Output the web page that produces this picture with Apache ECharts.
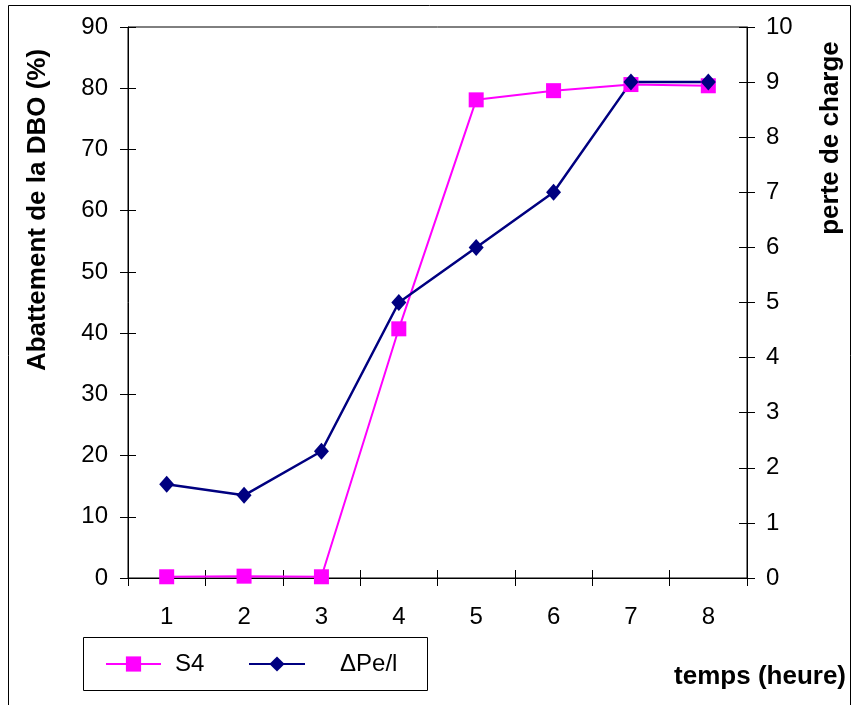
<!DOCTYPE html>
<html>
<head>
<meta charset="utf-8">
<script src="https://cdn.jsdelivr.net/npm/echarts@6/dist/echarts.min.js"></script>
<style>
  html, body { margin: 0; padding: 0; background: #fff; }
  #chart { width: 854px; height: 705px; }
</style>
</head>
<body>
<div id="chart"></div>
<script>
// Hours of operation (x axis)
const hours = ['1', '2', '3', '4', '5', '6', '7', '8'];
// BOD removal (%) for S4, left axis
const s4 = [0.2, 0.3, 0.2, 40.7, 78.1, 79.6, 80.6, 80.4];
// Head loss, right axis
const headLoss = [1.7, 1.5, 2.3, 5.0, 6.0, 7.0, 9.0, 9.0];
// Axis ranges
const leftMax = 90, leftStep = 10;
const rightMax = 10, rightStep = 1;

const FONT = "'Liberation Sans', Arial, sans-serif";
const chart = echarts.init(document.getElementById('chart'));

const tickLabel = { color: '#000', fontSize: 24, fontFamily: FONT };

chart.setOption({
  animation: false,
  backgroundColor: '#fff',
  grid: {
    left: 128, right: 107, top: 27, bottom: 127,
    show: true, borderColor: '#000', borderWidth: 1, backgroundColor: 'transparent'
  },
  xAxis: [
    {
      type: 'category', data: hours, boundaryGap: true, position: 'bottom',
      axisLine: { lineStyle: { color: '#000', width: 1 } },
      axisTick: { show: true, length: 8, inside: false, lineStyle: { color: '#000' } },
      axisLabel: Object.assign({ margin: 27 }, tickLabel),
      splitLine: { show: false }
    },
    {
      type: 'category', data: hours, boundaryGap: true, position: 'bottom',
      axisLine: { show: false },
      axisTick: { show: true, length: 8, inside: true, lineStyle: { color: '#000' } },
      axisLabel: { show: false },
      splitLine: { show: false }
    }
  ],
  yAxis: [
    {
      type: 'value', min: 0, max: leftMax, interval: leftStep, position: 'left',
      axisLine: { show: true, lineStyle: { color: '#000', width: 1 } },
      axisTick: { show: true, length: 8, lineStyle: { color: '#000' } },
      axisLabel: Object.assign({ margin: 20 }, tickLabel),
      splitLine: { show: false }
    },
    {
      type: 'value', min: 0, max: rightMax, interval: rightStep, position: 'right',
      axisLine: { show: true, lineStyle: { color: '#000', width: 1 } },
      axisTick: { show: true, length: 8, lineStyle: { color: '#000' } },
      axisLabel: Object.assign({ margin: 19 }, tickLabel),
      splitLine: { show: false }
    },
    {
      type: 'value', min: 0, max: leftMax, interval: leftStep, position: 'left',
      axisLine: { show: false },
      axisTick: { show: true, length: 8, inside: true, lineStyle: { color: '#000' } },
      axisLabel: { show: false },
      splitLine: { show: false }
    },
    {
      type: 'value', min: 0, max: rightMax, interval: rightStep, position: 'right',
      axisLine: { show: false },
      axisTick: { show: true, length: 8, inside: true, lineStyle: { color: '#000' } },
      axisLabel: { show: false },
      splitLine: { show: false }
    }
  ],
  legend: [
    {
      data: ['S4'], left: 105, top: 652, padding: 0,
      itemWidth: 55, itemHeight: 19,
      textStyle: { color: '#000', fontSize: 24, fontFamily: FONT, lineHeight: 24, padding: [0, 0, 0, 9] }
    },
    {
      data: ['\u0394Pe/l'], left: 248, top: 652, padding: 0,
      itemWidth: 56, itemHeight: 19,
      textStyle: { color: '#000', fontSize: 24, fontFamily: FONT, lineHeight: 24, padding: [0, 0, 0, 30] }
    }
  ],
  series: [
    {
      name: 'S4', type: 'line', data: s4, xAxisIndex: 0, yAxisIndex: 0,
      symbol: 'rect', symbolSize: 15,
      lineStyle: { color: '#FF00FF', width: 2 },
      itemStyle: { color: '#FF00FF' }
    },
    {
      name: '\u0394Pe/l', type: 'line', data: headLoss, xAxisIndex: 0, yAxisIndex: 1,
      symbol: 'diamond', symbolSize: [15, 17],
      lineStyle: { color: '#000080', width: 2.5 },
      itemStyle: { color: '#000080' }
    }
  ],
  graphic: [
    {
      type: 'rect', silent: true, z: 0,
      shape: { x: 8.5, y: 5.5, width: 842, height: 710 },
      style: { fill: 'none', stroke: '#000', lineWidth: 1 }
    },
    {
      type: 'rect', silent: true,
      shape: { x: 83.5, y: 637.5, width: 344, height: 53 },
      style: { fill: 'none', stroke: '#000', lineWidth: 1 }
    },
    {
      type: 'text', silent: true, x: 38, y: 210, rotation: Math.PI / 2,
      style: {
        text: 'Abattement de la DBO (%)', fill: '#000',
        font: 'bold 26px ' + FONT, align: 'center', verticalAlign: 'middle'
      }
    },
    {
      type: 'text', silent: true, x: 831, y: 138, rotation: Math.PI / 2,
      style: {
        text: 'perte de charge', fill: '#000',
        font: 'bold 26px ' + FONT, align: 'center', verticalAlign: 'middle'
      }
    },
    {
      type: 'text', silent: true, x: 846, y: 677,
      style: {
        text: 'temps (heure)', fill: '#000',
        font: 'bold 26px ' + FONT, align: 'right', verticalAlign: 'middle'
      }
    }
  ]
});
</script>
</body>
</html>
